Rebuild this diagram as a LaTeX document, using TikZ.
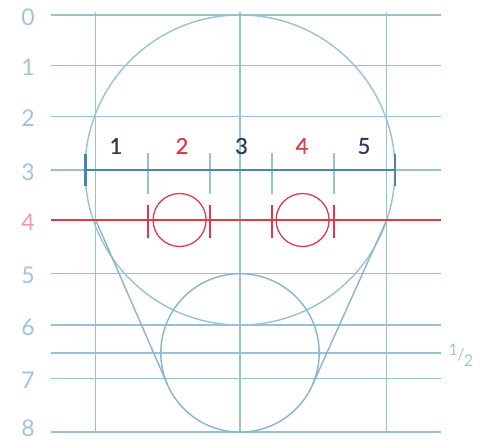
\documentclass[tikz,border=0pt]{standalone}
\usepackage{fontspec}
\setmainfont{Lato}
\newfontfamily\numfont[FakeBold=0.6]{Lato}
\definecolor{gridc}{HTML}{98C1D4}
\definecolor{circc}{HTML}{88B5CB}
\definecolor{labc}{HTML}{A0C4D8}
\definecolor{pinkc}{HTML}{F29AA3}
\definecolor{redc}{HTML}{E03A4A}
\definecolor{navyc}{HTML}{2B3A5C}
\definecolor{rulerc}{HTML}{4684B2}
\begin{document}
\begin{tikzpicture}[x=1pt,y=-1pt,
  gridline/.style={draw=gridc, line width=1.4pt},
  circline/.style={draw=circc, line width=1.4pt},
  axlab/.style={text=labc, font=\fontsize{23}{23}\selectfont, inner sep=0, anchor=center},
  rulnum/.style={font=\numfont\fontsize{22}{22}\selectfont, inner sep=0, anchor=center},
  redline/.style={draw=redc, line width=1.8pt},
  redtick/.style={draw=redc, line width=1.3pt},
  rulerline/.style={draw=rulerc, line width=2pt},
  endtick/.style={draw=rulerc, line width=2.4pt},
  innertick/.style={draw=gridc, line width=1.5pt}]
\useasboundingbox (0,0) rectangle (490,440);
% horizontal grid lines
\foreach \n/\y in {0/15,1/65.7,2/116.3,3/170,5/273.7,6/325,h/353,7/378.7,8/432}{
  \coordinate (hl\n) at (51,\y);
  \coordinate (hr\n) at (441,\y);
  \draw[gridline] (hl\n) -- (hr\n);
}
% vertical grid lines
\foreach \n/\x in {a/95.7,b/240,c/386.7}{
  \coordinate (vt\n) at (\x,12.3);
  \coordinate (vb\n) at (\x,432);
  \draw[gridline] (vt\n) -- (vb\n);
}
% axis labels
\foreach \n/\y in {0/17,1/67,2/118,3/172,5/275.5,6/327,7/380.5,8/428}{
  \node[axlab] (lab\n) at (28,\y) {\n};
}
\node[axlab, text=pinkc] (lab4) at (28,222) {4};
\node[text=labc, inner sep=0, font=\fontsize{16}{16}\selectfont] (labh) at (461,355)
  {\raisebox{5pt}{1}\kern-0.5pt/\kern-0.5pt\raisebox{-6pt}{2}};
% circles
\node[circle, circline, draw=gridc, minimum size=310pt, inner sep=0] (bc) at (240,170) {};
\node[circle, circline, minimum size=158.4pt, inner sep=0] (lc) at (240,352.9) {};
% tangent lines
\coordinate (pl) at (95.7,220);
\coordinate (pr) at (386.7,220);
\coordinate (tl) at (167.4,384.5);
\coordinate (tr) at (312.2,385.4);
\draw[circline] (pl) -- (tl);
\draw[circline] (pr) -- (tr);
% red line and circles
\coordinate (rl) at (51,220);
\coordinate (rr) at (441,220);
\draw[redline] (rl) -- (rr);
\node[circle, draw=redc, line width=1.3pt, minimum size=53pt, inner sep=0] (ec1) at (179.6,220) {};
\node[circle, draw=redc, line width=1.3pt, minimum size=53pt, inner sep=0] (ec2) at (302.6,220) {};
\foreach \n/\x in {1/148,2/210,3/272,4/334}{
  \coordinate (rt\n) at (\x,205);
  \coordinate (rb\n) at (\x,238);
  \draw[redtick] (rt\n) -- (rb\n);
  \coordinate (it\n) at (\x,153);
  \coordinate (ib\n) at (\x,194);
  \draw[innertick] (it\n) -- (ib\n);
}
% ruler
\coordinate (r0) at (85.3,170);
\coordinate (r5) at (395,170);
\draw[rulerline] (r0) -- (r5);
\coordinate (r0t) at (85.3,154);
\coordinate (r0b) at (85.3,186);
\coordinate (r5t) at (395,154);
\coordinate (r5b) at (395,186);
\draw[endtick] (r0t) -- (r0b);
\draw[endtick] (r5t) -- (r5b);
% ruler numbers
\node[rulnum, text=navyc] (n1) at (116,146) {1};
\node[rulnum, text=redc] (n2) at (182,146) {2};
\node[rulnum, text=navyc] (n3) at (241.5,146) {3};
\node[rulnum, text=redc] (n4) at (302,146) {4};
\node[rulnum, text=navyc] (n5) at (364,146) {5};
\end{tikzpicture}
\end{document}
